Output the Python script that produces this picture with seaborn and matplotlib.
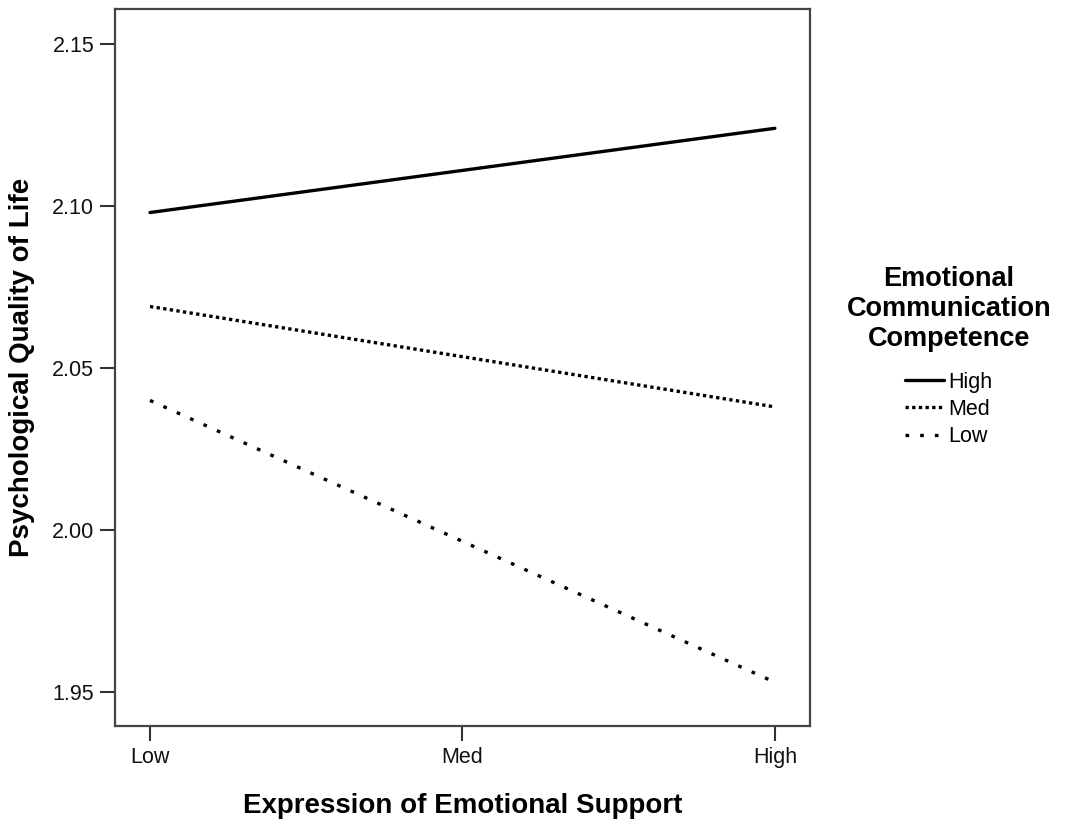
import matplotlib
matplotlib.use("Agg")
import matplotlib.pyplot as plt
import seaborn as sns
import pandas as pd

# x categories (expression of emotional support)
support_levels = ["Low", "Med", "High"]
# one line per level of emotional communication competence
competence_levels = ["High", "Med", "Low"]
qol_high = [2.098, 2.111, 2.124]
qol_med = [2.069, 2.0535, 2.038]
qol_low = [2.040, 1.9965, 1.953]
y_ticks = [1.95, 2.00, 2.05, 2.10, 2.15]

rows = []
for comp, vals in zip(competence_levels, [qol_high, qol_med, qol_low]):
    for i, v in enumerate(vals):
        rows.append({"x": i, "qol": v, "Competence": comp})
df = pd.DataFrame(rows)

sns.set_theme(style="white")
plt.rcParams['font.family'] = ['Liberation Sans', 'DejaVu Sans']
plt.rcParams['text.color'] = 'black'
plt.rcParams['axes.labelcolor'] = 'black'

fig = plt.figure(figsize=(10.69, 8.25), dpi=100)
ax = fig.add_axes([0.1076, 0.12, 0.65, 0.869])

dashes = {"High": "", "Med": (1, 1), "Low": (1.1, 3.3)}
sns.lineplot(data=df, x="x", y="qol", style="Competence", dashes=dashes,
             color="black", linewidth=2.4, ax=ax, legend=False)

ax.set_xlim(-0.112, 2.112)
ax.set_ylim(1.9395, 2.1608)
ax.set_xticks(range(len(support_levels)))
ax.set_xticklabels(support_levels)
ax.set_yticks(y_ticks)
ax.set_yticklabels([f"{t:.2f}" for t in y_ticks])
ax.tick_params(axis="both", direction="out", length=11, width=1.5,
               color="#333333", labelsize=15.5, labelcolor="#111111", pad=4,
               bottom=True, left=True)
for s in ax.spines.values():
    s.set_color("#444444")
    s.set_linewidth(1.6)

ax.set_xlabel("Expression of Emotional Support", fontsize=20, fontweight="bold",
              labelpad=18)
ax.set_ylabel("Psychological Quality of Life", fontsize=20, fontweight="bold",
              labelpad=12)

# legend built from the same line styles
handles = []
for comp in competence_levels:
    h, = ax.plot([], [], color="black", linewidth=2.4)
    if dashes[comp]:
        h.set_dashes(dashes[comp])
    handles.append(h)
leg = ax.legend(handles, competence_levels,
                title="Emotional\nCommunication\nCompetence",
                loc="center left", bbox_to_anchor=(1.025, 0.515), frameon=False,
                fontsize=15.5, handlelength=1.8, handletextpad=0.2,
                labelspacing=0.3)
leg.get_title().set_fontsize(19.5)
leg.get_title().set_fontweight("bold")
leg.get_title().set_multialignment("center")
leg._legend_box.sep = 14

fig.savefig("out.png", dpi=100)
